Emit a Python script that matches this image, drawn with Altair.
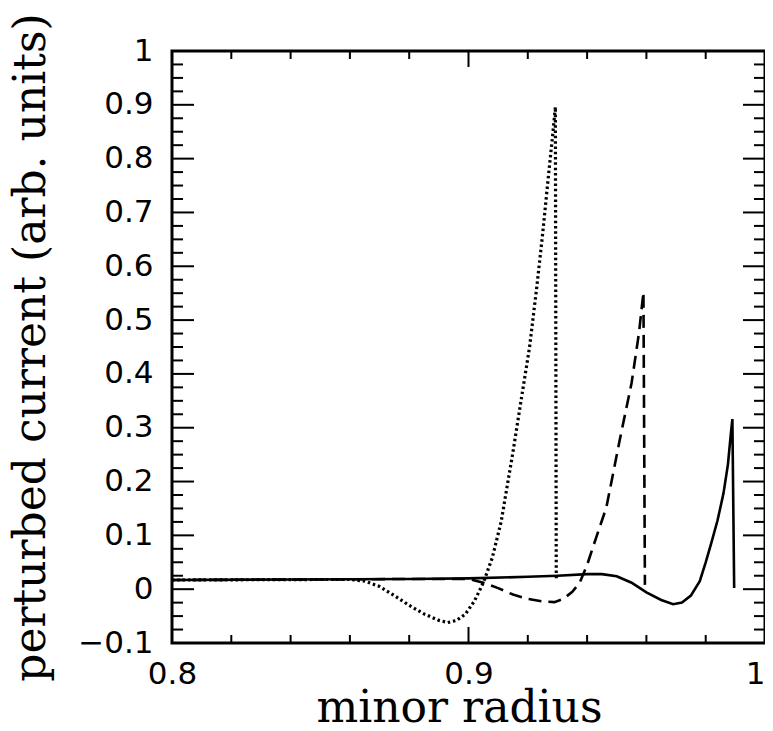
import altair as alt
import pandas as pd

# ---- data ----
x_solid = [0.80, 0.84, 0.88, 0.90, 0.92, 0.93, 0.94, 0.945, 0.95, 0.955, 0.96, 0.965,
           0.969, 0.972, 0.975, 0.978, 0.98, 0.982, 0.984, 0.986, 0.9875, 0.9885, 0.989, 0.9896]
y_solid = [0.017, 0.018, 0.019, 0.020, 0.023, 0.025, 0.028, 0.028, 0.024, 0.012, -0.006, -0.020,
           -0.028, -0.025, -0.012, 0.015, 0.050, 0.088, 0.128, 0.178, 0.232, 0.290, 0.316, 0.002]

x_dashed = [0.80, 0.85, 0.88, 0.90, 0.905, 0.91, 0.915, 0.92, 0.925, 0.929, 0.932, 0.935,
            0.9375, 0.94, 0.943, 0.9465, 0.951, 0.955, 0.9575, 0.959, 0.9595]
y_dashed = [0.017, 0.018, 0.019, 0.019, 0.012, 0.002, -0.010, -0.018, -0.023, -0.024, -0.018, -0.005,
            0.012, 0.045, 0.095, 0.152, 0.277, 0.383, 0.476, 0.552, 0.008]

x_dotted = [0.80, 0.85, 0.86, 0.865, 0.87, 0.875, 0.88, 0.885, 0.89, 0.893, 0.896, 0.899,
            0.902, 0.905, 0.908, 0.911, 0.915, 0.918, 0.9206, 0.923, 0.925, 0.927, 0.9285, 0.9293, 0.9296]
y_dotted = [0.017, 0.018, 0.018, 0.015, 0.005, -0.012, -0.030, -0.046, -0.058, -0.062, -0.058, -0.046,
            -0.022, 0.012, 0.058, 0.125, 0.255, 0.360, 0.450, 0.560, 0.660, 0.770, 0.850, 0.896, 0.020]

x_major_ticks = [0.8, 0.9, 1.0]
x_minor_ticks = [0.82, 0.84, 0.86, 0.88, 0.92, 0.94, 0.96, 0.98]
y_major_ticks = [-0.1, 0.0, 0.1, 0.2, 0.3, 0.4, 0.5, 0.6, 0.7, 0.8, 0.9, 1.0]
y_minor_ticks = [round(-0.1 + 0.025 * i, 3) for i in range(45) if i % 4 != 0]

W, H = 593, 592

xscale = alt.Scale(domain=[0.8, 1.0], nice=False, zero=False)
yscale = alt.Scale(domain=[-0.1, 1.0], nice=False, zero=False)

xaxis = alt.Axis(values=x_major_ticks, title="minor radius", ticks=False, tickSize=0,
                 domain=False, grid=False, labelFont="DejaVu Sans", labelFontSize=31,
                 labelColor="black", labelPadding=16, labelBaseline="top",
                 labelFlush=False, labelOverlap=False,
                 labelAlign={"condition": {"test": "datum.value == 1", "value": "right"},
                             "value": "center"},
                 labelExpr="datum.value == 1 ? '1' : format(datum.value, '.1f')",
                 titleFont="DejaVu Serif", titleFontSize=44, titleFontWeight="normal",
                 titleColor="black", titleBaseline="alphabetic", titleX=287, titleY=78,
                 titleAlign="center")
yaxis = alt.Axis(values=y_major_ticks, title="perturbed current (arb. units)", ticks=False,
                 tickSize=0, domain=False, grid=False, labelFont="DejaVu Sans", labelFontSize=31,
                 labelColor="black", labelPadding=19, labelFlush=False, labelOverlap=False,
                 labelExpr="abs(datum.value) < 1e-9 ? '0' : datum.value == 1 ? '1' : datum.value < 0 ? '\u2212' + format(-datum.value, '.1f') : format(datum.value, '.1f')",
                 titleFont="DejaVu Serif", titleFontSize=44, titleFontWeight="normal",
                 titleColor="black", titleBaseline="alphabetic", titleX=-128, titleY=296,
                 titleAngle=270, titleAlign="center")


def series(xs, ys):
    return pd.DataFrame({"x": xs, "y": ys, "i": list(range(len(xs)))})


base_enc = dict(x=alt.X("x:Q", scale=xscale, axis=xaxis),
                y=alt.Y("y:Q", scale=yscale, axis=yaxis),
                order="i:Q")

solid = alt.Chart(series(x_solid, y_solid)).mark_line(color="black", strokeWidth=2.6).encode(**base_enc)
dashed = alt.Chart(series(x_dashed, y_dashed)).mark_line(
    color="black", strokeWidth=2.6, strokeDash=[13, 7]).encode(**base_enc)
dotted = alt.Chart(series(x_dotted, y_dotted)).mark_line(
    color="black", strokeWidth=3.2, strokeDash=[2.5, 2.8]).encode(**base_enc)


def xticks(vals, length):
    df = pd.DataFrame({"v": vals})
    bottom = alt.Chart(df).mark_rule(color="black", strokeWidth=2).encode(
        x=alt.X("v:Q", scale=xscale), y=alt.value(H), y2=alt.value(H - length))
    top = alt.Chart(df).mark_rule(color="black", strokeWidth=2).encode(
        x=alt.X("v:Q", scale=xscale), y=alt.value(0), y2=alt.value(length))
    return [bottom, top]


def yticks(vals, length):
    df = pd.DataFrame({"v": vals})
    left = alt.Chart(df).mark_rule(color="black", strokeWidth=2).encode(
        y=alt.Y("v:Q", scale=yscale), x=alt.value(0), x2=alt.value(length))
    right = alt.Chart(df).mark_rule(color="black", strokeWidth=2).encode(
        y=alt.Y("v:Q", scale=yscale), x=alt.value(W), x2=alt.value(W - length))
    return [left, right]


layers = [solid, dashed, dotted] + xticks(x_major_ticks, 16) + xticks(x_minor_ticks, 8) \
    + yticks(y_major_ticks, 22) + yticks(y_minor_ticks, 11)

chart = alt.layer(*layers).properties(
    width=W, height=H,
    autosize=alt.AutoSizeParams(type="none"),
    padding={"left": 164, "top": 43, "right": 0, "bottom": 80},
    background="white",
).configure_view(stroke="black", strokeWidth=3)

chart.save("out.html", embed_options={"renderer": "svg", "actions": False})
